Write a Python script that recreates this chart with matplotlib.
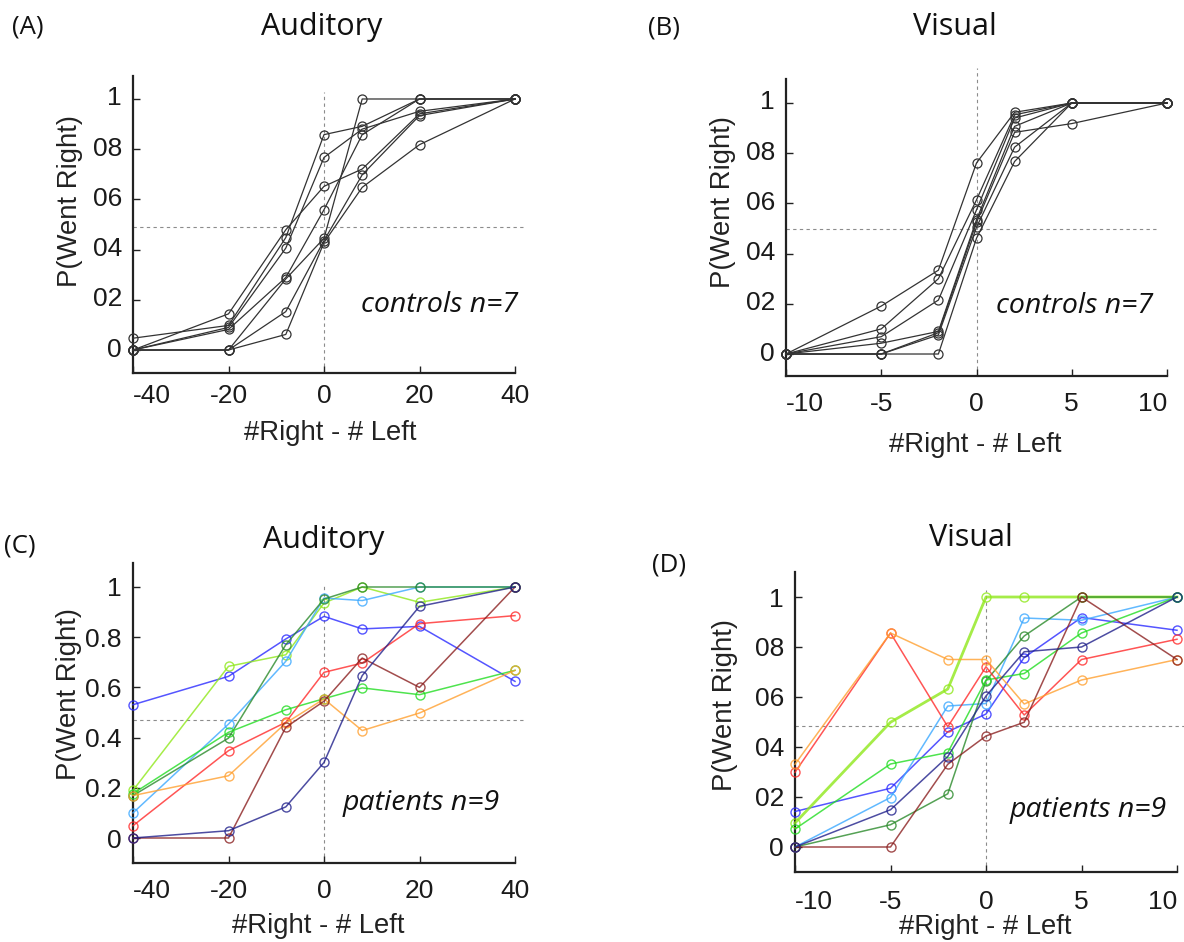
import numpy as np
import matplotlib
matplotlib.use("Agg")
import matplotlib.pyplot as plt
from matplotlib.transforms import ScaledTranslation

# ---- data -------------------------------------------------------------
aud_x = [-40, -20, -8, 0, 8, 20, 40]
vis_x = [-10, -5, -2, 0, 2, 5, 10]

# controls (panels A, B): one row per subject
aud_controls = [
    [0.0, 0.144, 0.479, 0.652, 0.721, 0.941, 1.0],
    [0.047, 0.098, 0.448, 0.858, 0.891, 1.0, 1.0],
    [0.0, 0.090, 0.406, 0.767, 0.880, 0.951, 1.0],
    [0.0, 0.082, 0.289, 0.559, 0.858, 1.0, 1.0],
    [0.0, 0.0, 0.283, 0.445, 1.0, 1.0, 1.0],
    [0.0, 0.0, 0.153, 0.436, 0.698, 0.934, 1.0],
    [0.0, 0.0, 0.062, 0.428, 0.648, 0.818, 1.0],
]
vis_controls = [
    [0.0, 0.191, 0.334, 0.761, 0.963, 1.0, 1.0],
    [0.0, 0.100, 0.300, 0.614, 0.953, 1.0, 1.0],
    [0.0, 0.069, 0.215, 0.574, 0.940, 1.0, 1.0],
    [0.0, 0.043, 0.090, 0.535, 0.907, 1.0, 1.0],
    [0.0, 0.0, 0.085, 0.524, 0.883, 0.918, 1.0],
    [0.0, 0.0, 0.076, 0.505, 0.824, 1.0, 1.0],
    [0.0, 0.0, 0.0, 0.461, 0.767, 1.0, 1.0],
]

# patients (panels C, D)
patient_colors = ['#2a2aff', '#8fe81a', '#3aa8ff', '#2a8a2a', '#22dd22',
                  '#ff2a2a', '#ffa030', '#8b2020', '#20208b']
aud_patients = [
    [0.531, 0.644, 0.793, 0.883, 0.833, 0.843, 0.624],   # blue
    [0.190, 0.684, 0.730, 0.936, 1.0, 0.939, 1.0],       # light green
    [0.100, 0.454, 0.704, 0.956, 0.946, 1.0, 1.0],       # sky blue
    [0.169, 0.398, 0.770, 0.952, 1.0, 1.0, 1.0],         # dark green
    [0.177, 0.421, 0.511, 0.555, 0.598, 0.571, 0.668],   # green
    [0.049, 0.348, 0.461, 0.660, 0.697, 0.854, 0.886],   # red
    [0.169, 0.248, 0.458, 0.554, 0.428, 0.498, 0.668],   # orange
    [0.0, 0.0, 0.441, 0.545, 0.717, 0.600, 1.0],         # brown
    [0.0, 0.029, 0.124, 0.301, 0.647, 0.923, 1.0],       # navy
]
vis_patients = [
    [0.142, 0.235, 0.461, 0.532, 0.758, 0.918, 0.867],   # blue
    [0.096, 0.499, 0.632, 1.0, 1.0, 1.0, 1.0],           # light green
    [0.0, 0.198, 0.564, 0.574, 0.916, 0.907, 1.0],       # sky blue
    [0.0, 0.089, 0.213, 0.665, 0.844, 1.0, 1.0],         # dark green
    [0.072, 0.332, 0.378, 0.668, 0.694, 0.856, 1.0],     # green
    [0.299, 0.856, 0.481, 0.721, 0.528, 0.750, 0.831],   # red
    [0.331, 0.856, 0.750, 0.750, 0.572, 0.668, 0.750],   # orange
    [0.0, 0.0, 0.331, 0.444, 0.499, 1.0, 0.750],         # brown
    [0.0, 0.149, 0.362, 0.604, 0.781, 0.800, 1.0],       # navy
]

aud_ticks = [-40, -20, 0, 20, 40]
vis_ticks = [-10, -5, 0, 5, 10]
y_ticks = [0, 0.2, 0.4, 0.6, 0.8, 1]
y_labels_nodot = ['0', '02', '04', '06', '08', '1']
y_labels_dot = ['0', '0.2', '0.4', '0.6', '0.8', '1']

# ---- figure -----------------------------------------------------------
W, H = 1184, 942
fig = plt.figure(figsize=(W / 100, H / 100), dpi=100)

SANS = 'Liberation Sans'
HUM = 'Open Sans'


def px_axes(left, right, top, bottom):
    return fig.add_axes([left / W, 1 - bottom / H, (right - left) / W, (bottom - top) / H])


def ftext(x, y, s, **kw):
    fig.text(x / W, 1 - y / H, s, **kw)


def style(ax, xt, yl, xpad, ylift, last_right):
    for s in ['top', 'right']:
        ax.spines[s].set_visible(False)
    for s in ['left', 'bottom']:
        ax.spines[s].set_linewidth(1.6)
        ax.spines[s].set_color('#222222')
    ax.set_xticks(xt)
    ax.set_xticklabels([str(t) for t in xt])
    ax.set_yticks(y_ticks)
    ax.set_yticklabels(yl)
    ax.tick_params(direction='in', length=5, width=1, labelsize=19, colors='#222222')
    ax.tick_params(axis='x', pad=xpad)
    ax.tick_params(axis='y', pad=8)
    xl = ax.get_xticklabels()
    for lab in xl + ax.get_yticklabels():
        lab.set_fontfamily(SANS)
        lab.set_color('#1a1a1a')
    xl[0].set_horizontalalignment('left')
    if last_right:
        xl[-1].set_horizontalalignment('right')
    if ylift:
        shift = ScaledTranslation(0, ylift / 100, fig.dpi_scale_trans)
        for lab in ax.get_yticklabels():
            lab.set_transform(lab.get_transform() + shift)


panels = [
    dict(box=(133, 515, 76, 373), x=aud_x, rows=aud_controls, colors=None,
         xlim=(-40, 40), ylim=(-0.0916, 1.0916), xt=aud_ticks, yl=y_labels_nodot,
         hy=0.49, hx=41.7, vtop=1.028, xpad=8, ylift=3, last_right=False),
    dict(box=(786, 1167, 79, 376), x=vis_x, rows=vis_controls, colors=None,
         xlim=(-10, 10), ylim=(-0.0876, 1.0956), xt=vis_ticks, yl=y_labels_nodot,
         hy=0.50, hx=9.4, vtop=1.14, xpad=11.5, ylift=3, last_right=True),
    dict(box=(133, 515, 563, 863), x=aud_x, rows=aud_patients, colors=patient_colors,
         xlim=(-40, 40), ylim=(-0.0996, 1.0956), xt=aud_ticks, yl=y_labels_dot,
         hy=0.47, hx=41.7, vtop=1.01, xpad=11.5, ylift=0, last_right=False),
    dict(box=(795, 1177, 572, 872), x=vis_x, rows=vis_patients, colors=patient_colors,
         xlim=(-10, 10), ylim=(-0.1, 1.1), xt=vis_ticks, yl=y_labels_nodot,
         hy=0.484, hx=10.4, vtop=1.03, xpad=13, ylift=0, last_right=True),
]

for p in panels:
    ax = px_axes(*p['box'])
    ax.set_xlim(*p['xlim'])
    ax.set_ylim(*p['ylim'])
    style(ax, p['xt'], p['yl'], p['xpad'], p['ylift'], p['last_right'])
    # guide lines
    ax.plot([p['xlim'][0], p['hx']], [p['hy'], p['hy']], ls=(0, (3, 3)), lw=0.8,
            color='#8c8c8c', clip_on=False, zorder=1)
    ax.plot([0, 0], [p['ylim'][0], p['vtop']], ls=(0, (3, 3)), lw=0.8,
            color='#8c8c8c', clip_on=False, zorder=1)
    for i, row in enumerate(p['rows']):
        if p['colors'] is None:
            ax.plot(p['x'], row, '-o', color='#333333', lw=0.9, ms=6.5,
                    mfc='none', mec='#333333', mew=0.9, clip_on=False, zorder=3)
        else:
            c = p['colors'][i]
            lw = 1.1
            if p['rows'] is vis_patients and i == 1:
                lw = 2.0
            ax.plot(p['x'], row, '-o', color=c, lw=lw, ms=6.5, alpha=0.8,
                    mfc='none', mec=c, mew=1.0, clip_on=False, zorder=3)

# titles and panel letters
ftext(322, 27, 'Auditory', family=HUM, size=22, ha='center', va='center', color='#111111')
ftext(955, 27, 'Visual', family=HUM, size=22, ha='center', va='center', color='#111111')
ftext(324, 540, 'Auditory', family=HUM, size=22, ha='center', va='center', color='#111111')
ftext(971, 538, 'Visual', family=HUM, size=22, ha='center', va='center', color='#111111')
ftext(28, 27, '(A)', family=HUM, size=18.5, ha='center', va='center', color='#111111')
ftext(664, 28, '(B)', family=HUM, size=18.5, ha='center', va='center', color='#111111')
ftext(20, 546, '(C)', family=HUM, size=18.5, ha='center', va='center', color='#111111')
ftext(669, 565, '(D)', family=HUM, size=18.5, ha='center', va='center', color='#111111')

# axis labels
for (x, y) in [(330, 433), (975, 445), (318, 926), (985, 927)]:
    ftext(x, y, '#Right - # Left', family=SANS, size=19.8, ha='center', va='center', color='#222222')
for (x, y) in [(70, 201), (723, 202), (69, 694), (725, 705)]:
    ftext(x, y, 'P(Went Right)', family=SANS, size=19.8, ha='center', va='center',
          rotation=90, color='#222222')

# group annotations
ftext(518, 305, 'controls n=7', family=HUM, style='italic', size=20.5, ha='right', va='center', color='#111111')
ftext(1153, 306, 'controls n=7', family=HUM, style='italic', size=20.5, ha='right', va='center', color='#111111')
ftext(500, 803, 'patients n=9', family=HUM, style='italic', size=20.5, ha='right', va='center', color='#111111')
ftext(1167, 810, 'patients n=9', family=HUM, style='italic', size=20.5, ha='right', va='center', color='#111111')

fig.savefig('out.png', dpi=100)
